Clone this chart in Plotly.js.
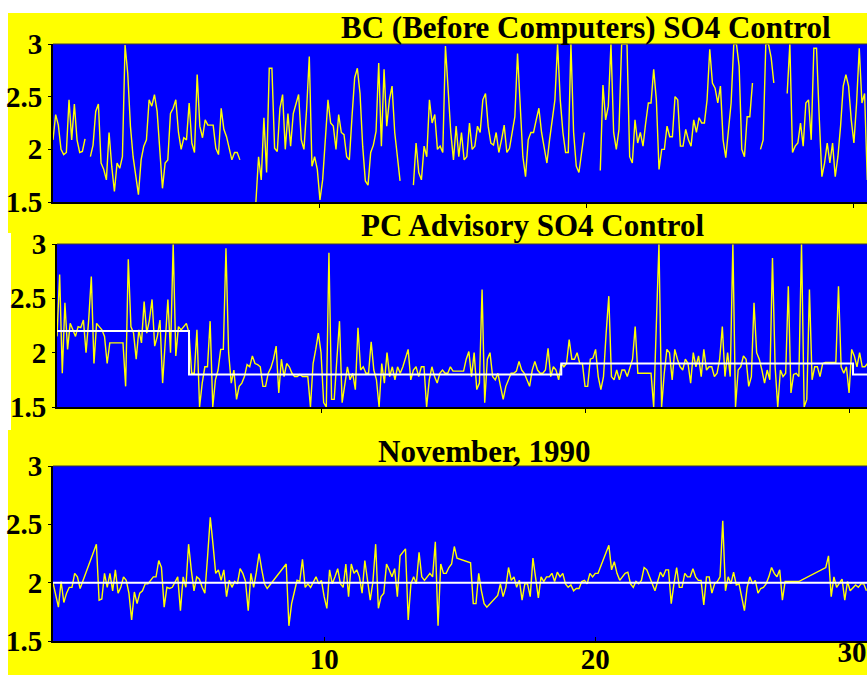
<!DOCTYPE html>
<html>
<head>
<meta charset="utf-8">
<script src="https://cdn.plot.ly/plotly-3.0.1.min.js"></script>
<style>
  html, body { margin: 0; padding: 0; background: #ffffff; }
  #chart { width: 867px; height: 675px; }
</style>
</head>
<body>
<div id="chart"></div>
<script>
// Sulphate (SO4) readings over November 1990, one sample every 0.1 day.
// null = no reading (a break in the trace, or a bridged gap in the last panel).
const sampleStepDays = 0.1;

// Panel 1: before computers
const bcSO4 = [
  2.09,2.33,2.23,2.0,1.95,1.97,2.47,2.09,2.43,2.09,1.97,1.98,2.10,null,1.93,2.04,2.36,2.43,1.87,1.81,
  1.71,2.16,1.84,1.6,1.87,1.82,1.93,2.99,2.72,2.22,1.93,1.74,1.57,1.9,2.03,2.09,2.47,2.41,2.52,2.36,
  1.97,1.63,1.87,1.9,2.34,2.39,2.47,2.16,2.0,2.11,2.09,2.44,2.06,1.97,2.71,2.22,2.11,2.28,2.23,2.23,
  2.23,2.01,1.95,2.39,2.19,2.12,2.0,1.9,1.97,1.97,1.9,null,null,null,null,null,1.5,1.93,1.71,2.3,
  1.78,2.77,2.77,2.01,1.98,2.39,2.52,2.0,2.34,2.03,2.34,2.44,2.52,2.09,2.0,2.38,2.88,1.84,1.93,1.81,
  1.52,1.71,2.06,2.47,2.25,2.22,2.0,2.33,2.16,2.14,1.93,1.9,2.31,2.68,2.77,2.53,2.03,1.7,1.66,1.97,
  2.04,2.17,2.82,2.03,2.76,2.22,2.47,2.6,2.16,1.9,1.7,null,null,null,null,1.66,2.06,1.78,1.71,2.03,
  1.93,2.47,2.25,2.33,2.0,2.03,1.97,2.98,2.6,2.16,1.9,2.22,1.93,2.16,1.9,1.93,2.25,2.0,2.03,2.22,
  2.16,2.47,2.53,2.22,2.06,2.04,2.16,1.97,2.09,2.23,1.97,2.01,2.16,2.31,2.91,2.41,1.93,1.74,2.09,2.16,
  2.16,2.28,2.39,2.16,2.0,1.87,2.09,2.28,2.47,3.0,2.47,2.16,1.97,1.97,3.0,2.16,1.84,1.78,1.98,2.16,
  null,null,null,null,null,1.8,2.61,2.28,2.41,3.0,2.16,2.0,2.19,3.0,3.0,3.0,1.93,1.87,2.28,2.06,
  2.16,2.03,2.25,2.44,2.44,2.76,2.47,1.81,2.0,2.0,2.22,2.12,2.12,2.5,2.47,2.03,2.03,2.19,2.09,2.03,
  2.28,2.16,2.3,2.25,2.25,2.47,2.95,2.63,2.58,2.44,2.6,2.09,1.92,2.19,2.44,3.0,3.0,2.79,2.0,1.93,
  2.31,2.31,2.63,null,null,2.0,2.09,3.0,3.0,2.87,2.63,null,null,null,null,2.53,3.0,1.97,2.03,2.06,
  2.25,2.03,2.44,2.47,2.09,2.96,2.96,2.31,1.74,1.87,2.06,1.87,2.06,1.74,1.93,2.22,2.6,2.71,2.6,2.28,
  2.06,2.44,2.96,2.44,2.53,1.71
];

// Panel 2: PC advisory control
const pcSO4 = [
  2.15,2.72,1.81,2.46,2.03,2.27,2.21,2.15,2.24,2.23,2.3,2.0,2.3,2.7,1.9,2.27,2.24,2.21,2.15,1.9,
  2.09,2.09,2.09,2.09,2.09,2.09,1.69,2.86,2.24,2.18,1.94,2.21,2.09,2.47,2.18,2.3,2.49,2.06,2.15,2.3,
  1.72,2.15,2.49,2.0,3.0,1.97,2.24,2.21,2.24,2.27,2.18,1.81,1.81,2.21,1.5,1.72,1.87,1.87,2.29,1.5,
  1.75,1.84,2.03,2.03,2.96,2.0,1.72,1.84,1.57,1.69,1.72,1.78,1.89,1.87,1.97,1.9,1.89,1.87,1.69,1.69,
  1.81,1.86,1.94,2.06,1.63,1.94,1.78,1.9,1.87,1.81,1.78,1.78,1.8,1.78,1.78,1.78,1.5,1.9,2.03,2.18,
  2.0,1.54,1.5,2.92,1.57,1.57,1.94,2.29,1.54,1.72,1.87,1.75,1.81,1.66,2.23,1.84,1.87,1.81,1.81,2.1,
  1.84,1.75,1.5,1.9,1.72,2.0,1.78,1.87,1.75,1.87,1.81,1.87,1.94,2.03,1.75,1.84,1.87,1.78,1.87,1.87,
  1.5,1.75,1.87,1.78,1.72,1.81,1.84,1.81,1.81,1.87,1.83,1.83,1.83,1.83,1.83,1.94,2.01,1.78,2.0,1.66,
  1.72,2.58,1.54,1.94,2.0,1.78,1.75,1.81,1.69,1.57,1.69,1.75,1.81,1.81,1.83,1.92,1.84,1.81,1.75,1.69,
  1.84,1.92,1.84,1.81,1.81,1.84,2.04,1.78,1.87,1.84,1.75,1.9,1.87,1.9,2.12,1.94,1.94,2.0,1.9,1.9,
  1.69,1.69,1.94,1.95,2.03,1.78,1.66,1.78,2.18,2.52,1.78,1.75,1.84,1.75,1.84,1.84,1.78,1.87,1.94,2.24,
  1.81,1.81,1.81,1.81,1.81,1.81,1.5,2.3,3.0,1.5,1.81,2.03,2.0,1.75,2.03,1.94,1.87,1.84,1.94,1.9,
  1.72,2.0,1.87,1.97,1.78,2.03,1.84,1.87,1.87,1.78,1.81,1.94,2.24,1.78,2.0,1.78,3.0,1.5,1.84,1.87,
  1.97,1.94,1.69,1.78,2.46,2.0,1.94,1.84,1.72,1.84,1.75,2.87,1.87,1.5,1.84,1.78,1.81,2.61,1.63,1.8,
  1.81,1.78,3.0,1.5,1.57,2.58,1.75,1.87,1.87,1.78,1.9,1.91,1.91,1.91,1.91,1.91,2.61,1.87,1.81,1.87,
  1.63,2.03,1.97,1.87,2.0,1.87,1.87,1.9
];
// PC advisory setpoint (step changes, day of month)
const pcSetpointDays = [0, 5, 19.1, 30.15, 30.7];
const pcSetpoint     = [2.2, 1.8, 1.9, 1.8, 1.8];

// Panel 3: November 1990
const novSO4 = [
  2.0,1.89,1.79,2.01,1.83,1.91,1.96,1.96,2.08,2.05,1.95,null,null,null,null,null,2.33,1.85,1.86,2.08,
  1.96,2.08,1.93,2.11,1.91,1.96,2.05,2.02,1.91,1.68,1.92,1.82,1.91,1.93,1.99,1.99,2.02,2.05,2.05,2.19,
  2.13,1.79,1.96,1.95,1.96,2.01,2.05,1.76,2.05,1.96,2.33,2.11,1.93,2.05,2.03,1.96,1.91,2.22,2.56,2.33,
  2.08,2.11,2.02,2.11,1.88,2.02,1.96,2.01,1.99,2.12,2.08,2.01,1.76,2.08,1.96,2.09,2.25,2.11,1.99,1.95,
  null,null,null,null,null,null,2.16,1.63,1.82,1.92,2.02,2.01,2.2,1.96,1.99,1.96,2.01,2.05,1.99,2.02,
  1.88,1.78,2.11,1.99,2.05,2.12,1.99,1.96,2.16,1.88,2.16,2.08,2.11,2.05,1.91,2.19,2.02,1.85,2.01,2.33,
  1.78,1.88,1.91,2.16,2.11,2.05,2.12,1.88,2.23,null,2.29,1.68,1.99,2.05,1.99,2.26,2.05,2.02,2.05,2.08,
  2.05,2.35,1.63,2.16,2.08,2.08,2.13,2.16,2.31,2.21,null,null,null,null,2.17,1.82,1.82,2.08,1.93,1.82,
  1.79,null,null,null,1.89,1.99,1.88,1.96,2.13,2.02,2.05,1.96,2.02,1.85,1.99,1.99,1.88,2.21,2.02,1.87,
  2.05,2.01,2.05,2.05,2.08,2.01,2.09,2.05,2.08,1.99,1.96,1.98,1.93,1.95,1.95,2.01,2.02,1.99,2.08,2.05,
  2.08,2.08,null,null,null,2.32,2.11,2.18,2.08,2.02,2.05,2.08,2.09,1.99,1.96,2.01,1.99,2.02,2.13,2.11,
  2.05,1.99,1.93,2.01,2.09,2.05,2.11,2.11,1.82,1.99,2.13,1.96,1.96,2.08,2.05,2.05,2.12,2.05,2.02,2.02,
  1.81,2.05,2.05,1.91,1.99,2.01,2.05,2.53,1.93,2.05,1.99,2.09,1.98,1.99,1.88,1.76,1.96,2.05,1.99,2.02,
  1.91,1.95,1.96,1.99,2.05,2.13,2.08,2.05,2.11,1.85,2.01,null,null,null,null,2.01,null,null,null,null,
  null,null,null,null,null,2.13,2.23,1.88,2.05,1.96,1.99,2.03,1.85,2.01,1.93,1.96,1.98,1.96,1.99,1.99,
  1.93
];
const novSetpointDays = [0, 30.02];
const novSetpoint     = [2.0, 2.0];

// Axis ticks
const dayTicks = [10, 20, 30];
const dayTickText = ['10', '20', '30'];
const so4Ticks = [1.5, 2, 2.5, 3];

// Panel titles
const panelTitles = [
  'BC (Before Computers) SO4 Control',
  'PC Advisory SO4 Control',
  'November, 1990'
];

// ---- page geometry (pixels) ----
const W = 867, H = 675;
const fx = px => px / W;
const fy = py => 1 - py / H;

const YELLOW = '#ffff00', BLUE = '#0000ff', WHITE = '#ffffff';
const serif = 'Liberation Serif, Times New Roman, serif';
const tickFont = { family: serif, size: 29, color: '#000000', weight: 'bold' };

function dayAxis(domainLeftPx, maxDay, showLabels, tickDir) {
  return {
    domain: [fx(domainLeftPx), 1],
    range: [0, maxDay],
    showgrid: false, zeroline: false,
    showline: true, linecolor: '#000000', linewidth: 2,
    ticks: tickDir, ticklen: 4, tickwidth: 1, tickcolor: '#000000',
    tickmode: 'array', tickvals: dayTicks,
    showticklabels: showLabels,
    tickfont: tickFont,
    ticklabelstandoff: -9,
    ticklabeloverflow: 'allow',
    fixedrange: true
  };
}
function so4Axis(topPx, bottomPx, anchor) {
  return {
    domain: [fy(bottomPx), fy(topPx)],
    range: [1.5, 3],
    anchor: anchor,
    showgrid: false, zeroline: false,
    showline: true, linecolor: '#000000', linewidth: 2,
    ticks: 'outside', ticklen: 3, tickwidth: 1, tickcolor: '#000000',
    tickmode: 'array', tickvals: so4Ticks,
    tickfont: tickFont,
    fixedrange: true
  };
}

const readingLine = { color: YELLOW, width: 1.4 };
const setpointLine = { color: WHITE, width: 2 };

const traces = [
  { type: 'scatter', mode: 'lines', x0: 0, dx: sampleStepDays, y: bcSO4,
    line: readingLine, xaxis: 'x', yaxis: 'y', connectgaps: false },
  { type: 'scatter', mode: 'lines', x0: 0, dx: sampleStepDays, y: pcSO4,
    line: readingLine, xaxis: 'x2', yaxis: 'y2' },
  { type: 'scatter', mode: 'lines', x: pcSetpointDays, y: pcSetpoint,
    line: Object.assign({ shape: 'hv' }, setpointLine), xaxis: 'x2', yaxis: 'y2' },
  { type: 'scatter', mode: 'lines', x0: 0, dx: sampleStepDays, y: novSO4,
    line: readingLine, xaxis: 'x3', yaxis: 'y3', connectgaps: true },
  // setpoint drawn on the twin day axis (same range/domain as x3), which carries the "30" label
  { type: 'scatter', mode: 'lines', x: novSetpointDays, y: novSetpoint,
    line: setpointLine, xaxis: 'x4', yaxis: 'y3' }
];

const topEdge = (xa, ya) => ({
  type: 'line', xref: xa + ' domain', yref: ya + ' domain',
  x0: 0, x1: 1, y0: 1, y1: 1, line: { color: '#3a3a3a', width: 1 }, layer: 'above'
});

// bottom day axis: the last label sits left of its tick so it stays on the page
const xaxis3 = Object.assign(dayAxis(53, 30.02, true, 'inside'), {
  anchor: 'y3',
  ticktext: dayTickText.slice(0, 2).concat([''])
});
const xaxis4 = Object.assign(dayAxis(53, 30.02, true, ''), {
  anchor: 'y3', overlaying: 'x3', showline: false,
  tickvals: dayTicks.slice(2), ticktext: dayTickText.slice(2),
  ticklabelposition: 'outside left'
});

const layout = {
  width: W, height: H,
  margin: { l: 0, r: 0, t: 0, b: 0, pad: 0 },
  paper_bgcolor: YELLOW,
  plot_bgcolor: BLUE,
  showlegend: false,
  xaxis:  Object.assign(dayAxis(53, 30.49, false, 'outside'), { anchor: 'y' }),
  yaxis:  so4Axis(44, 202, 'x'),
  xaxis2: Object.assign(dayAxis(57, 30.68, false, 'outside'), { anchor: 'y2' }),
  yaxis2: so4Axis(244, 407, 'x2'),
  xaxis3: xaxis3,
  xaxis4: xaxis4,
  yaxis3: so4Axis(466, 641, 'x3'),
  shapes: [
    // white page border above and left of the charts
    { type: 'rect', xref: 'paper', yref: 'paper', x0: 0, x1: 1, y0: fy(13), y1: 1,
      fillcolor: WHITE, line: { width: 0 }, layer: 'below' },
    { type: 'rect', xref: 'paper', yref: 'paper', x0: 0, x1: fx(8), y0: 0, y1: 1,
      fillcolor: WHITE, line: { width: 0 }, layer: 'below' },
    { type: 'rect', xref: 'paper', yref: 'paper', x0: 0, x1: fx(11), y0: fy(430), y1: fy(233),
      fillcolor: WHITE, line: { width: 0 }, layer: 'below' },
    topEdge('x', 'y'), topEdge('x2', 'y2'), topEdge('x3', 'y3')
  ],
  annotations: [
    { text: panelTitles[0], x: fx(586), y: fy(28) },
    { text: panelTitles[1], x: fx(532), y: fy(226) },
    { text: panelTitles[2], x: fx(484), y: fy(451) }
  ].map(a => Object.assign(a, {
    xref: 'paper', yref: 'paper', xanchor: 'center', yanchor: 'middle',
    showarrow: false, font: { family: serif, size: 31, color: '#000000', weight: 'bold' }
  }))
};

Plotly.newPlot('chart', traces, layout, { staticPlot: true, displayModeBar: false });
</script>
</body>
</html>
